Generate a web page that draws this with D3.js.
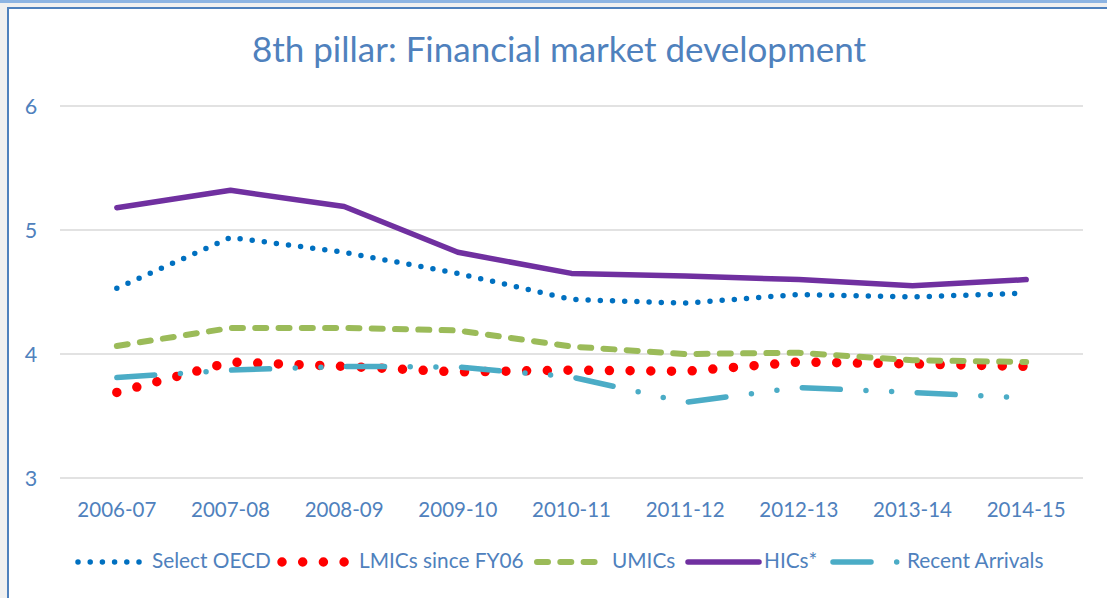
<!DOCTYPE html>
<html>
<head>
<meta charset="utf-8">
<script src="https://cdn.jsdelivr.net/npm/d3@7/dist/d3.min.js"></script>
<style>
  html, body { margin: 0; padding: 0; background: #f0f0f0; }
  svg { display: block; }
  text { font-family: Lato, "Open Sans", sans-serif; fill: #4f81bd; }
</style>
</head>
<body>
<svg id="chart" width="1107" height="598"></svg>
<script>
// ---- data ----
const categories = ["2006-07","2007-08","2008-09","2009-10","2010-11","2011-12","2012-13","2013-14","2014-15"];
const selectOECD     = [4.53, 4.94, 4.82, 4.65, 4.44, 4.41, 4.48, 4.46, 4.49];
const lmicsSinceFY06 = [3.69, 3.935, 3.90, 3.855, 3.87, 3.86, 3.935, 3.92, 3.90];
const umics          = [4.065, 4.21, 4.21, 4.19, 4.06, 4.0, 4.01, 3.95, 3.935];
const hics           = [5.18, 5.32, 5.19, 4.82, 4.65, 4.63, 4.60, 4.55, 4.60];
const recentArrivals = [3.81, 3.87, 3.90, 3.895, 3.815, 3.61, 3.73, 3.69, 3.645];
const yTicks = [3, 4, 5, 6];
const seriesNames = ["Select OECD", "LMICs since FY06", "UMICs", "HICs*", "Recent Arrivals"];
const title = "8th pillar: Financial market development";

// ---- styles ----
const styles = {
  "Select OECD":      { color: "#0070c0", width: 5.5, dash: "0 12.2" },
  "LMICs since FY06": { color: "#ff0000", width: 9.5, dash: "0 20.7" },
  "UMICs":            { color: "#9bbb59", width: 6,   dash: "11 12.3" },
  "HICs*":            { color: "#7030a0", width: 5.5, dash: null },
  "Recent Arrivals":  { color: "#4bacc6", width: 5.5, dash: "38 25.7 0 25.7 0 25.6" }
};
const seriesData = [selectOECD, lmicsSinceFY06, umics, hics, recentArrivals];

const svg = d3.select("#chart");

// background band + frame
svg.append("rect").attr("x", 0).attr("y", 0).attr("width", 1107).attr("height", 3).attr("fill", "#8db4e2");
svg.append("rect").attr("x", 8).attr("y", 8).attr("width", 1110).attr("height", 600)
  .attr("fill", "#ffffff").attr("stroke", "#4f81bd").attr("stroke-width", 2);

const plot = { left: 60, right: 1083, top: 106, bottom: 478 };

const x = d3.scaleBand().domain(categories).range([plot.left, plot.right]);
const y = d3.scaleLinear().domain([3, 6]).range([plot.bottom, plot.top]);

// gridlines
svg.append("g").selectAll("line").data(yTicks).join("line")
  .attr("x1", plot.left).attr("x2", plot.right)
  .attr("y1", d => y(d)).attr("y2", d => y(d))
  .attr("stroke", "#d9d9d9").attr("stroke-width", 1.5);

// y axis labels
const yAxis = d3.axisLeft(y).tickValues(yTicks).tickSize(0).tickPadding(0).tickFormat(d3.format("d"));
const yg = svg.append("g").attr("transform", "translate(31,0)").call(yAxis);
yg.select(".domain").remove();
yg.selectAll("text").attr("text-anchor", "middle").attr("dy", "0.36em")
  .style("font-size", "21.5px").attr("fill", "#4f81bd");

// x axis labels
const xAxis = d3.axisBottom(x).tickSize(0).tickPadding(0);
const xg = svg.append("g").attr("transform", "translate(0,517)").call(xAxis);
xg.select(".domain").remove();
xg.selectAll("text").attr("dy", "0").attr("y", 0)
  .style("font-size", "20.5px").attr("fill", "#4f81bd");

// title
svg.append("text").attr("x", 559).attr("y", 62).attr("text-anchor", "middle")
  .style("font-size", "35px").text(title);

// lines
const line = d3.line()
  .x((d, i) => x(categories[i]) + x.bandwidth() / 2)
  .y(d => y(d));

seriesNames.forEach((name, k) => {
  const s = styles[name];
  svg.append("path").datum(seriesData[k])
    .attr("d", line)
    .attr("fill", "none")
    .attr("stroke", s.color)
    .attr("stroke-width", s.width)
    .attr("stroke-linecap", "round")
    .attr("stroke-linejoin", "round")
    .attr("stroke-dasharray", s.dash);
});

// legend
const legendItems = [
  { name: "Select OECD",      x0: 78,  x1: 142, tx: 152 },
  { name: "LMICs since FY06", x0: 282, x1: 345, tx: 359 },
  { name: "UMICs",            x0: 537, x1: 602, tx: 612 },
  { name: "HICs*",            x0: 688, x1: 759, tx: 764 },
  { name: "Recent Arrivals",  x0: 833, x1: 901, tx: 907 }
];
const ly = 562;
const lg = svg.append("g");
legendItems.forEach(it => {
  const s = styles[it.name];
  lg.append("line").attr("x1", it.x0).attr("x2", it.x1).attr("y1", ly).attr("y2", ly)
    .attr("stroke", s.color).attr("stroke-width", s.width)
    .attr("stroke-linecap", "round").attr("stroke-dasharray", s.dash);
  lg.append("text").attr("x", it.tx).attr("y", 568).style("font-size", "20.8px").text(it.name);
});
</script>
</body>
</html>
